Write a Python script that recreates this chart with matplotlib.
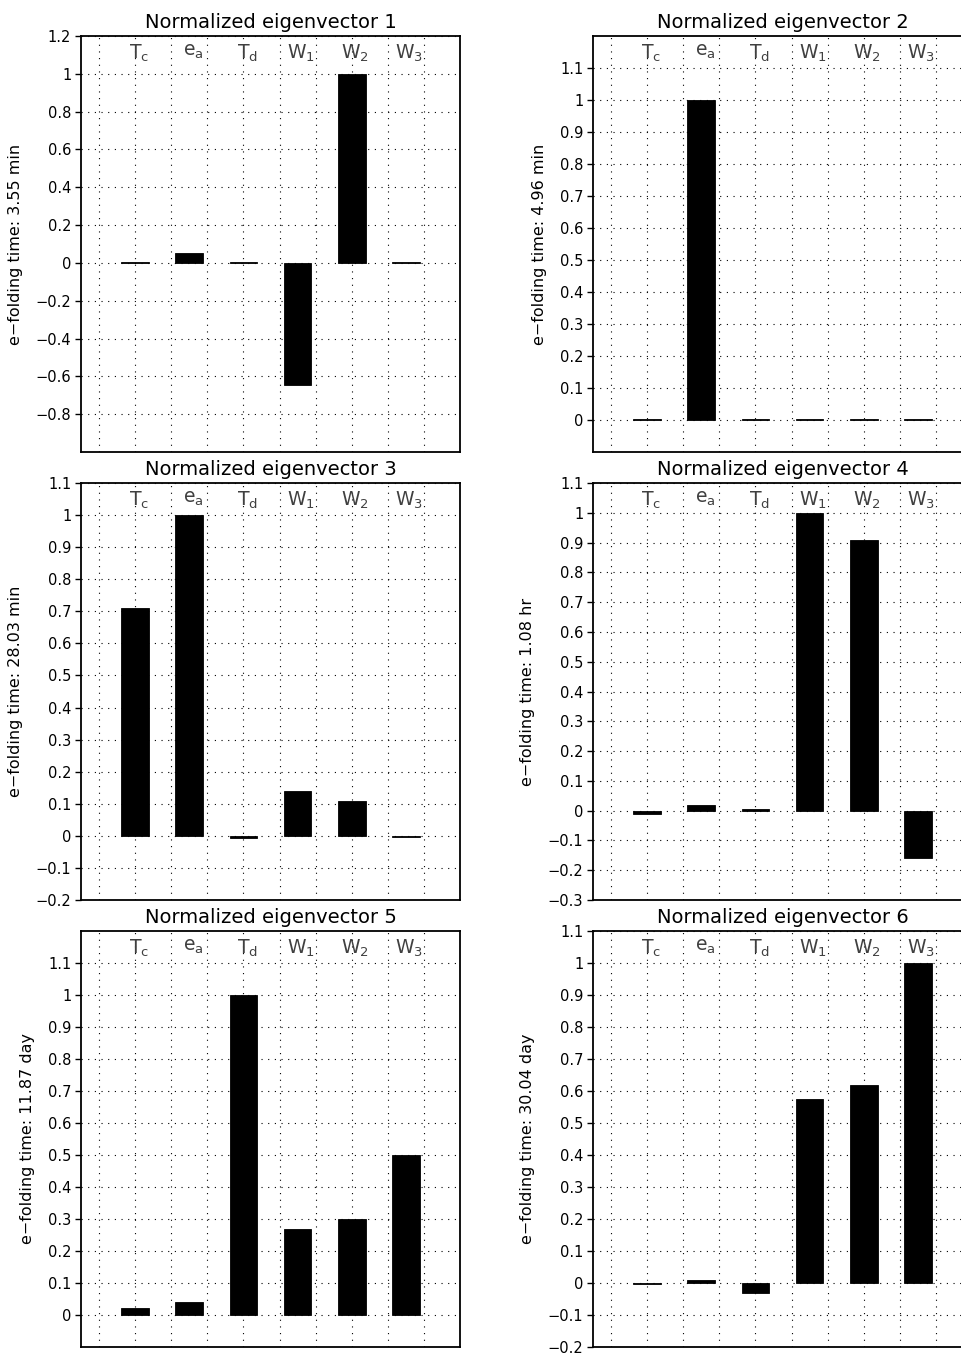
import numpy as np
import matplotlib.pyplot as plt

# variables del modelo (etiquetas de las barras)
variables = [r'$\mathregular{T_c}$', r'$\mathregular{e_a}$', r'$\mathregular{T_d}$',
             r'$\mathregular{W_1}$', r'$\mathregular{W_2}$', r'$\mathregular{W_3}$']

# componentes de cada autovector normalizado
eigvec1 = [0.004, 0.05, 0.005, -0.645, 1.0, 0.004]
eigvec2 = [0.003, 1.0, 0.003, 0.003, 0.003, 0.003]
eigvec3 = [0.71, 1.0, -0.006, 0.14, 0.11, -0.004]
eigvec4 = [-0.012, 0.019, 0.004, 1.0, 0.91, -0.16]
eigvec5 = [0.021, 0.04, 1.0, 0.27, 0.30, 0.50]
eigvec6 = [-0.004, 0.01, -0.03, 0.575, 0.62, 1.0]

# tiempos de e-folding
efold_times = ['3.55 min', '4.96 min', '28.03 min', '1.08 hr', '11.87 day', '30.04 day']

eigvecs = [eigvec1, eigvec2, eigvec3, eigvec4, eigvec5, eigvec6]

# limites y ticks del eje y de cada panel
ylims = [(-1.0, 1.2), (-0.1, 1.2), (-0.2, 1.1), (-0.3, 1.1), (-0.1, 1.2), (-0.2, 1.1)]
yticks = [np.arange(-4, 7) * 0.2,
          np.arange(0, 12) * 0.1,
          np.arange(-2, 12) * 0.1,
          np.arange(-3, 12) * 0.1,
          np.arange(0, 12) * 0.1,
          np.arange(-2, 12) * 0.1]

W, H = 962, 1355
fig = plt.figure(figsize=(W / 100, H / 100), dpi=100)

lefts = [81, 593]
rows = [(36, 452), (483, 900), (931, 1347)]
width = 379

positions = 2 + 1.5 * np.arange(len(variables))


def fmt(v):
    v = round(v, 1)
    if abs(v) < 1e-9:
        return '0'
    return ('%g' % v).replace('-', '\u2212')


for i, vec in enumerate(eigvecs):
    row, col = divmod(i, 2)
    top, bot = rows[row]
    ax = fig.add_axes([lefts[col] / W, 1 - bot / H, width / W, (bot - top) / H])

    # barras negras (con borde para que las casi nulas se vean)
    ax.bar(positions, vec, width=0.77, color='black', edgecolor='black',
           linewidth=0.6, zorder=3)

    ax.set_xlim(0.5, 11)
    ax.set_ylim(*ylims[i])
    ax.set_xticks(np.arange(1, 11))
    ax.tick_params(axis='x', length=0, labelbottom=False)
    ax.set_yticks(yticks[i])
    ax.set_yticklabels([fmt(v) for v in yticks[i]])
    ax.tick_params(axis='y', direction='out', length=4, width=1, pad=3, labelsize=10.5)
    ax.grid(True, color='black', linestyle=(0, (1, 5)), linewidth=0.8, zorder=1)

    for sp in ax.spines.values():
        sp.set_linewidth(1.3)

    for x, lab in zip(positions, variables):
        ax.text(x + 0.1, 0.985, lab, transform=ax.get_xaxis_transform(),
                ha='center', va='top', fontsize=13.5, color='0.25', zorder=4)

    ax.set_title(f'Normalized eigenvector {i + 1}', fontsize=14, pad=6)
    ax.set_ylabel(f'e\u2212folding time: {efold_times[i]}', fontsize=11.5, labelpad=9)

fig.savefig('out.png', dpi=100)
